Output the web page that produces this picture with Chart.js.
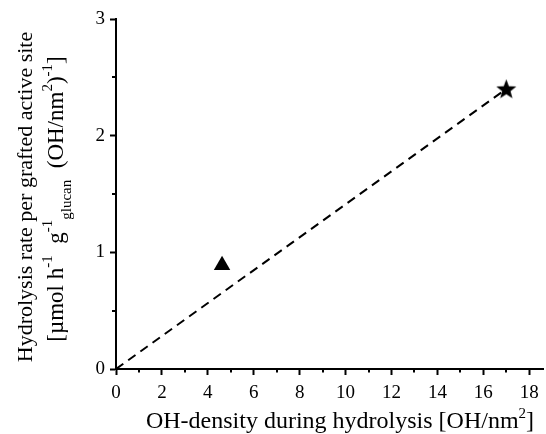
<!DOCTYPE html>
<html>
<head>
<meta charset="utf-8">
<script src="https://cdn.jsdelivr.net/npm/chart.js@4/dist/chart.umd.min.js"></script>
<style>
  html, body { margin: 0; padding: 0; background: #fff; }
  #wrap { width: 546px; height: 434px; position: relative; }
</style>
</head>
<body>
<div id="wrap"><canvas id="c" width="546" height="434"></canvas></div>
<script>
// ---- data ----
const fitLine = [{x: 0, y: 0}, {x: 17, y: 2.4}];
const trianglePoint = [{x: 4.62, y: 0.89}];
const starPoint = [{x: 17, y: 2.40}];
const xTicks = [0, 2, 4, 6, 8, 10, 12, 14, 16, 18];
const xMinorTicks = [1, 3, 5, 7, 9, 11, 13, 15, 17];
const yTicks = [0, 1, 2, 3];
const yMinorTicks = [0.5, 1.5, 2.5];

const FONT = '"Liberation Serif", "Times New Roman", serif';

// filled five-point star as point style
function makeStar(size) {
  const cv = document.createElement('canvas');
  cv.width = size; cv.height = size;
  const g = cv.getContext('2d');
  const cx = size / 2, cy = size / 2 + 0.8;
  const R = size / 2, r = R * 0.42;
  g.beginPath();
  for (let i = 0; i < 10; i++) {
    const a = -Math.PI / 2 + i * Math.PI / 5;
    const rr = i % 2 === 0 ? R : r;
    const px = cx + Math.cos(a) * rr, py = cy + Math.sin(a) * rr;
    if (i === 0) g.moveTo(px, py); else g.lineTo(px, py);
  }
  g.closePath();
  g.fillStyle = '#000';
  g.fill();
  return cv;
}

function drawRich(ctx, segs, cx, baseY, rotated) {
  let total = 0;
  segs.forEach(s => { ctx.font = s.s + 'px ' + FONT; s.w = ctx.measureText(s.t).width; total += s.w; });
  ctx.save();
  ctx.fillStyle = '#000';
  ctx.textBaseline = 'alphabetic';
  ctx.textAlign = 'left';
  if (rotated) {
    ctx.translate(baseY, cx);
    ctx.rotate(-Math.PI / 2);
  } else {
    ctx.translate(cx, baseY);
  }
  let x = -total / 2;
  segs.forEach(s => {
    ctx.font = s.s + 'px ' + FONT;
    ctx.fillText(s.t, x, s.dy || 0);
    x += s.w;
  });
  ctx.restore();
}

const extras = {
  id: 'extras',
  afterDraw(chart) {
    const ctx = chart.ctx;
    const xs = chart.scales.x, ys = chart.scales.y;
    const area = chart.chartArea;
    ctx.save();
    ctx.strokeStyle = '#000';
    ctx.lineWidth = 2;
    ctx.beginPath();
    xMinorTicks.forEach(v => {
      const p = Math.round(xs.getPixelForValue(v));
      ctx.moveTo(p, area.bottom);
      ctx.lineTo(p, area.bottom + 3.5);
    });
    yMinorTicks.forEach(v => {
      const p = Math.round(ys.getPixelForValue(v));
      ctx.moveTo(area.left, p);
      ctx.lineTo(area.left - 4, p);
    });
    ctx.stroke();
    ctx.restore();

    // x title
    drawRich(ctx, [
      {t: 'OH-density during hydrolysis [OH/nm', s: 24},
      {t: '2', s: 15, dy: -10},
      {t: ']', s: 24}
    ], 340, 428, false);
    // y title line 1
    drawRich(ctx, [
      {t: 'Hydrolysis rate per grafted active site', s: 22}
    ], 197, 32, true);
    // y title line 2
    drawRich(ctx, [
      {t: '[\u00b5mol h', s: 23},
      {t: '-1', s: 15, dy: -11},
      {t: '  g', s: 23},
      {t: '-1', s: 15, dy: -11},
      {t: 'glucan', s: 15, dy: 8},
      {t: '  (OH/nm', s: 23},
      {t: '2', s: 15, dy: -11},
      {t: ')', s: 23},
      {t: '-1', s: 15, dy: -11},
      {t: ']', s: 23}
    ], 199, 63, true);
  }
};

const tickFont = {family: FONT, size: 19};

new Chart(document.getElementById('c'), {
  type: 'scatter',
  data: {
    datasets: [
      {
        data: fitLine,
        showLine: true,
        borderColor: '#000',
        borderWidth: 2,
        borderDash: [9, 6],
        pointRadius: 0,
        fill: false
      },
      {
        data: trianglePoint,
        pointStyle: 'triangle',
        pointRadius: 9.5,
        backgroundColor: '#000',
        borderColor: '#000',
        borderWidth: 0
      },
      {
        data: starPoint,
        pointStyle: makeStar(21),
        pointRadius: 10,
        backgroundColor: '#000',
        borderColor: '#000'
      }
    ]
  },
  options: {
    responsive: false,
    animation: false,
    devicePixelRatio: 1,
    layout: {autoPadding: false, padding: {left: 0, top: 19, right: 3, bottom: 0}},
    plugins: {legend: {display: false}, tooltip: {enabled: false}},
    scales: {
      x: {
        type: 'linear',
        min: 0,
        max: 18.6,
        afterBuildTicks: s => { s.ticks = xTicks.map(v => ({value: v})); },
        afterFit: s => { s.height = 65; s.paddingLeft = 0; s.paddingRight = 0; },
        border: {display: true, color: '#000', width: 2},
        grid: {drawOnChartArea: false, drawTicks: true, tickLength: 6, tickColor: '#000', tickWidth: 2, color: '#000'},
        ticks: {color: '#000', font: tickFont, padding: 7, maxRotation: 0, autoSkip: false}
      },
      y: {
        type: 'linear',
        min: 0,
        max: 3,
        afterBuildTicks: s => { s.ticks = yTicks.map(v => ({value: v})); },
        afterFit: s => { s.width = 116; s.paddingTop = 0; s.paddingBottom = 0; },
        border: {display: true, color: '#000', width: 2},
        grid: {drawOnChartArea: false, drawTicks: true, tickLength: 6, tickColor: '#000', tickWidth: 2, color: '#000'},
        ticks: {color: '#000', font: tickFont, padding: 5, autoSkip: false}
      }
    }
  },
  plugins: [extras]
});
</script>
</body>
</html>
